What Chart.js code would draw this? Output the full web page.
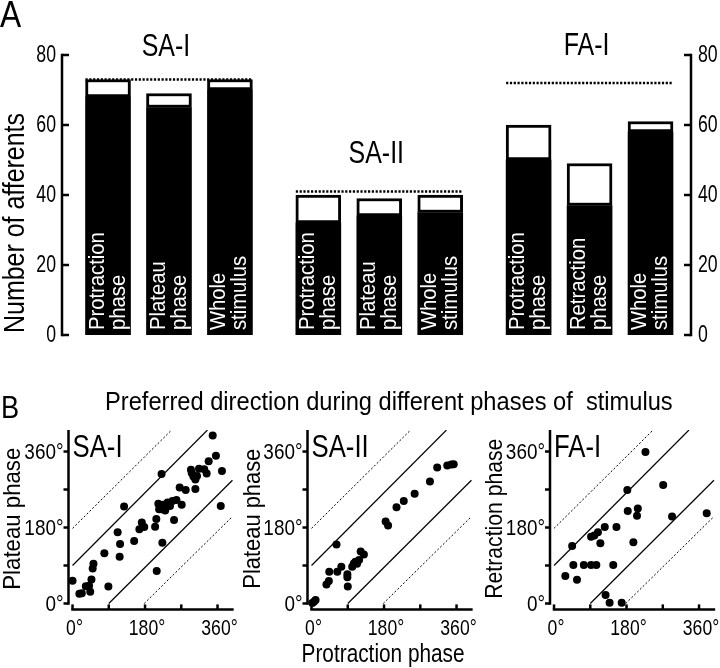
<!DOCTYPE html>
<html><head><meta charset="utf-8">
<script src="https://cdn.jsdelivr.net/npm/chart.js@4.4.1/dist/chart.umd.min.js"></script>
<style>
html,body{margin:0;padding:0;background:#fff;}
#wrap{position:relative;width:720px;height:668px;overflow:hidden;background:#fff;}
canvas{position:absolute;left:0;top:0;}
.lbl{position:absolute;font-family:'Liberation Sans',Arial,sans-serif;color:#000;white-space:pre;line-height:1;transform-origin:0 0;}
</style></head><body>
<div id="wrap">
<canvas id="cA" width="720" height="668"></canvas>
<canvas id="cB1" width="720" height="668"></canvas>
<canvas id="cB2" width="720" height="668"></canvas>
<canvas id="cB3" width="720" height="668"></canvas>
<div class="lbl" style="left:0px;top:-3px;font-size:36px;transform:scaleX(0.88)">A</div>
<div class="lbl" style="left:1px;top:391px;font-size:32px;transform:scaleX(0.85)">B</div>
<div class="lbl" style="left:105px;top:388px;font-size:26px;transform:scaleX(0.91)">Preferred direction during different phases of  stimulus</div>
</div>
<script>
// ---------------- Panel A data ----------------
const groupNames = ['SA-I', 'SA-II', 'FA-I'];
const groupTotals = [73, 41, 72];
const barGroups = [0, 0, 0, 1, 1, 1, 2, 2, 2];
const barSlots = [0, 1, 2, 0, 1, 2, 0, 1, 2];
const barLabels = [
  ['Protraction', 'phase'], ['Plateau', 'phase'], ['Whole', 'stimulus'],
  ['Protraction', 'phase'], ['Plateau', 'phase'], ['Whole', 'stimulus'],
  ['Protraction', 'phase'], ['Retraction', 'phase'], ['Whole', 'stimulus']
];
const barTotals = [73, 69, 73, 40, 39, 40, 60, 49, 61];
const barFilled = [68, 65, 70, 32, 34, 35, 50, 37, 58];
const afferentTicks = [0, 20, 40, 60, 80];

// ---------------- Panel B data ----------------
const degreeTicks = [0, 90, 180, 270, 360];
const degreeLabelled = [0, 180, 360];

const saIProtraction = [0, 17, 23, 33, 52, 50, 47, 41, 44, 79, 89, 112, 118, 117, 128, 153, 166, 172, 178, 205, 208, 209, 221, 223, 213, 215, 221, 225, 230, 236, 242, 248, 252, 258, 271, 266, 281, 305, 294, 296, 300, 305, 309, 314, 327, 333, 338, 348, 356, 371, 368];
const saIPlateau =     [54, 23, 24, 41, 94, 83, 57, 42, 28, 119, 40, 169, 141, 111, 230, 148, 176, 192, 181, 182, 200, 77, 307, 144, 236, 223, 223, 234, 220, 239, 231, 243, 198, 245, 234, 275, 269, 271, 317, 309, 301, 294, 302, 319, 318, 308, 337, 398, 350, 314, 231];

const saIIProtraction = [2, 6, 10, 37, 43, 44, 62, 64, 74, 89, 89, 90, 101, 105, 109, 113, 118, 122, 130, 184, 190, 211, 229, 256, 294, 312, 337, 347, 353];
const saIIPlateau =     [1, 4, 8, 45, 53, 75, 140, 75, 87, 69, 62, 40, 87, 95, 99, 94, 103, 123, 116, 194, 185, 228, 243, 260, 289, 322, 327, 329, 330];

const faIProtraction = [28, 45, 48, 57, 74, 92, 105, 92, 100, 109, 115, 126, 128, 138, 147, 155, 168, 182, 183, 197, 206, 208, 227, 271, 293, 379];
const faIRetraction =  [65, 136, 91, 56, 91, 91, 91, 158, 161, 169, 143, 181, 20, 2, 91, 181, 2, 269, 219, 145, 208, 225, 359, 281, 206, 214];

// reference diagonals: [x, y] end points
const diagUpperDotted = [[0, 178], [246, 411]];
const diagUpperSolid = [[0, 90], [335, 411]];
const diagLowerSolid = [[90, 0], [397, 292]];
const diagLowerDotted = [[178, 0], [397, 206]];

// ---------------- common settings ----------------
const BASE_FONT = "'Liberation Sans', Arial, sans-serif";
Chart.defaults.font.family = BASE_FONT;
Chart.defaults.color = '#000';

// condensed text helper: o = {size, sx | width, align, baseline, rot, color}
function condText(ctx, text, x, y, o) {
  ctx.save();
  ctx.font = o.size + 'px ' + BASE_FONT;
  const w = ctx.measureText(text).width;
  const sx = o.width ? o.width / w : (o.sx || 1);
  ctx.translate(x, y);
  if (o.rot) ctx.rotate(o.rot);
  ctx.scale(sx, 1);
  ctx.textAlign = o.align || 'left';
  ctx.textBaseline = o.baseline || 'alphabetic';
  ctx.fillStyle = o.color || '#000';
  ctx.fillText(text, 0, 0);
  ctx.restore();
}

// ---------------- Panel A ----------------
const GROUP_STEP = 3.45;
const xPos = i => barGroups[i] * GROUP_STEP + barSlots[i];
const titleBaselines = [56, 163, 55];

const panelAPlugin = {
  id: 'panelA',
  afterDatasetsDraw(chart) {
    const {ctx, chartArea: ca, scales: {y}} = chart;
    const meta = chart.getDatasetMeta(1);
    ctx.save();
    ctx.strokeStyle = '#000';
    ctx.lineWidth = 2.5;
    // axes with inward ticks and labels
    [[ca.left, 1], [ca.right, -1]].forEach(([ax, dir]) => {
      ctx.beginPath();
      ctx.moveTo(ax, y.getPixelForValue(0) + 1.25);
      ctx.lineTo(ax, y.getPixelForValue(80) - 1.25);
      ctx.stroke();
      afferentTicks.forEach(v => {
        const py = y.getPixelForValue(v);
        ctx.beginPath(); ctx.moveTo(ax, py); ctx.lineTo(ax + dir * 7, py); ctx.stroke();
        condText(ctx, String(v), dir > 0 ? ax - 6 : ax + 7, py + 1,
          {size: 23, sx: 0.77, align: dir > 0 ? 'right' : 'left', baseline: 'middle'});
      });
    });
    condText(ctx, 'Number of afferents', 16, y.getPixelForValue(0) - 2,
      {size: 29, width: 220, rot: -Math.PI / 2, align: 'left', baseline: 'middle'});
    // dotted totals and group titles
    ctx.setLineDash([2.2, 1.6]);
    groupNames.forEach((g, gi) => {
      const idx = barGroups.map((bg, i) => bg === gi ? i : -1).filter(i => i >= 0);
      const first = meta.data[idx[0]], last = meta.data[idx[idx.length - 1]];
      const py = y.getPixelForValue(groupTotals[gi]);
      ctx.beginPath();
      ctx.moveTo(first.x - first.width / 2, py);
      ctx.lineTo(last.x + last.width / 2, py);
      ctx.stroke();
      const cx = idx.reduce((s, i) => s + meta.data[i].x, 0) / idx.length;
      condText(ctx, g, cx - 3, titleBaselines[gi], {size: 32, sx: 0.78, align: 'center'});
    });
    ctx.setLineDash([]);
    // labels inside bars
    meta.data.forEach((el, i) => {
      barLabels[i].forEach((line, li) => {
        const lx = el.x + (li - 0.5) * 21;
        condText(ctx, line, lx, y.getPixelForValue(0) - 5,
          {size: 22, sx: 0.92, rot: -Math.PI / 2, align: 'left', baseline: 'middle', color: '#fff'});
      });
    });
    ctx.restore();
  }
};

new Chart(document.getElementById('cA'), {
  type: 'bar',
  data: {
    datasets: [
      {
        data: barFilled.map((v, i) => ({x: xPos(i), y: v})),
        backgroundColor: '#000', borderWidth: 0, stack: 's', barThickness: 45,
        xAxisID: 'x', yAxisID: 'y'
      },
      {
        data: barTotals.map((t, i) => ({x: xPos(i), y: t - barFilled[i]})),
        backgroundColor: '#fff', borderColor: '#000', borderWidth: 3, borderSkipped: false,
        stack: 's', barThickness: 45, xAxisID: 'x', yAxisID: 'y'
      }
    ]
  },
  options: {
    responsive: false, animation: false, events: [], devicePixelRatio: 1,
    layout: {padding: {left: 0, right: 0, top: 55, bottom: 333}},
    plugins: {legend: {display: false}, tooltip: {enabled: false}},
    scales: {
      x: {type: 'linear', offset: false, min: -0.755, max: 9.564, display: false},
      y: {
        position: 'left', stacked: true, min: 0, max: 80,
        afterFit: s => { s.width = 62; },
        afterBuildTicks: s => { s.ticks = afferentTicks.map(v => ({value: v})); },
        grid: {display: false, drawTicks: false}, border: {display: false},
        ticks: {display: false}
      },
      y2: {
        position: 'right', min: 0, max: 80,
        afterFit: s => { s.width = 29; },
        afterBuildTicks: s => { s.ticks = afferentTicks.map(v => ({value: v})); },
        grid: {display: false, drawTicks: false}, border: {display: false},
        ticks: {display: false}
      }
    }
  },
  plugins: [panelAPlugin]
});

// ---------------- Panel B ----------------
const PX_DEG_X = 0.4028;
const X_MIN = -10, X_MAX = 400, Y_MIN = -14, Y_MAX = 411;

function lineDataset(pts, dotted) {
  return {
    type: 'line', showLine: true,
    data: pts.map(p => ({x: p[0], y: p[1]})),
    borderColor: '#000', borderWidth: dotted ? 1 : 1.2,
    borderDash: dotted ? [2, 2] : [],
    pointRadius: 0, fill: false, order: 2
  };
}

function scatterPlugin(cfg) {
  return {
    id: 'axesB',
    afterDatasetsDraw(chart) {
      const {ctx, chartArea: ca, scales: {x, y}} = chart;
      ctx.save();
      ctx.strokeStyle = '#000';
      ctx.lineWidth = 2.5;
      ctx.setLineDash([]);
      ctx.beginPath();
      ctx.moveTo(ca.left, y.getPixelForValue(0) + 1.25);
      ctx.lineTo(ca.left, ca.top);
      ctx.stroke();
      degreeTicks.forEach(v => {
        const py = y.getPixelForValue(v);
        ctx.beginPath(); ctx.moveTo(ca.left, py); ctx.lineTo(ca.left - 5, py); ctx.stroke();
        if (degreeLabelled.includes(v)) {
          condText(ctx, v + '°', ca.left - 5, py + 1, {size: 22, sx: 0.86, align: 'right', baseline: 'middle'});
        }
      });
      ctx.beginPath();
      ctx.moveTo(x.getPixelForValue(0) - 1.25, ca.bottom);
      ctx.lineTo(ca.right, ca.bottom);
      ctx.stroke();
      degreeTicks.forEach(v => {
        const px = x.getPixelForValue(v);
        ctx.beginPath(); ctx.moveTo(px, ca.bottom); ctx.lineTo(px, ca.bottom - 5); ctx.stroke();
        if (degreeLabelled.includes(v)) {
          condText(ctx, v + '°', px + 2, ca.bottom + 9, {size: 22, sx: 0.8, align: 'center', baseline: 'top'});
        }
      });
      condText(ctx, cfg.name, x.getPixelForValue(0), 457, {size: 31, sx: 0.83, align: 'left'});
      condText(ctx, cfg.yTitle, cfg.boxLeft + 13, (ca.top + ca.bottom) / 2 - 1,
        {size: 24, width: cfg.yTitleWidth, rot: -Math.PI / 2, align: 'center', baseline: 'middle'});
      if (cfg.xTitle) {
        condText(ctx, cfg.xTitle, (ca.left + ca.right) / 2 - 7, 655,
          {size: 25, width: 163, align: 'center', baseline: 'middle'});
      }
      ctx.restore();
    }
  };
}

function makeScatter(id, cfg, xs, ys) {
  const right = cfg.axisX + (X_MAX - X_MIN) * PX_DEG_X;
  return new Chart(document.getElementById(id), {
    type: 'scatter',
    data: {
      datasets: [
        {
          data: xs.map((v, i) => ({x: v, y: ys[i]})),
          pointRadius: 4, pointBackgroundColor: '#000', pointBorderWidth: 0, order: 0
        },
        lineDataset(diagUpperDotted, true),
        lineDataset(diagUpperSolid, false),
        lineDataset(diagLowerSolid, false),
        lineDataset(diagLowerDotted, true)
      ]
    },
    options: {
      responsive: false, animation: false, events: [], devicePixelRatio: 1,
      layout: {padding: {left: cfg.boxLeft, right: 720 - right, top: 430, bottom: 0}},
      plugins: {legend: {display: false}, tooltip: {enabled: false}},
      scales: {
        x: {
          type: 'linear', min: X_MIN, max: X_MAX,
          afterFit: s => { s.height = 58.6; },
          afterBuildTicks: s => { s.ticks = degreeTicks.map(v => ({value: v})); },
          grid: {display: false, drawTicks: false}, border: {display: false},
          ticks: {display: false}
        },
        y: {
          type: 'linear', min: Y_MIN, max: Y_MAX,
          afterFit: s => { s.width = cfg.axisX - cfg.boxLeft; },
          afterBuildTicks: s => { s.ticks = degreeTicks.map(v => ({value: v})); },
          grid: {display: false, drawTicks: false}, border: {display: false},
          ticks: {display: false}
        }
      }
    },
    plugins: [scatterPlugin(cfg)]
  });
}

makeScatter('cB1', {boxLeft: 0, axisX: 68.5, name: 'SA-I', yTitle: 'Plateau phase', yTitleWidth: 142}, saIProtraction, saIPlateau);
makeScatter('cB2', {boxLeft: 240, axisX: 307.5, name: 'SA-II', yTitle: 'Plateau phase', yTitleWidth: 140, xTitle: 'Protraction phase'}, saIIProtraction, saIIPlateau);
makeScatter('cB3', {boxLeft: 482, axisX: 550, name: 'FA-I', yTitle: 'Retraction phase', yTitleWidth: 160}, faIProtraction, faIRetraction);
</script>
</body></html>
